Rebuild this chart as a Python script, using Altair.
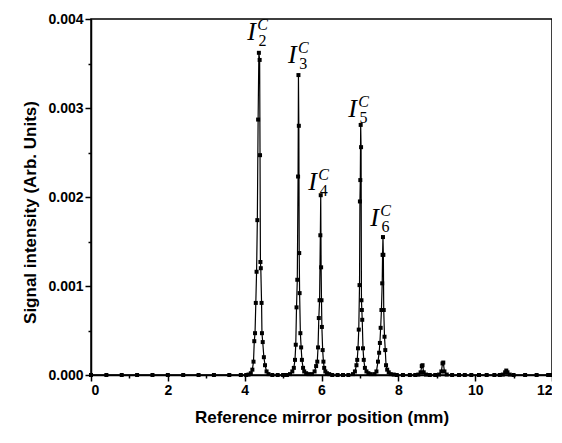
import altair as alt
import pandas as pd

# ---- data (mm, arb. units) ----
base_x = [0.0, 0.4, 0.8, 1.2, 1.6, 2.0, 2.4, 2.8, 3.2, 3.6, 3.9, 4.04,
          4.72, 4.86, 5.0, 5.1, 6.28, 6.42, 6.56, 6.7, 7.96, 8.12, 8.3, 8.44,
          8.82, 8.96, 9.4, 9.58, 9.73, 9.9, 10.1, 10.3, 10.5, 10.64,
          11.0, 11.3, 11.6, 11.9, 12.0]
base_y = [0.0] * len(base_x)

i2_x = [4.10, 4.16, 4.20, 4.23, 4.25, 4.27, 4.29, 4.31, 4.33, 4.35, 4.37,
        4.39, 4.40, 4.41, 4.42, 4.44, 4.45, 4.47, 4.50, 4.53, 4.57, 4.62]
i2_y = [0.005, 0.02, 0.06, 0.15, 0.38, 0.47, 0.81, 1.16, 1.74, 2.87, 3.62,
        3.54, 2.47, 1.27, 1.20, 0.81, 0.47, 0.37, 0.20, 0.11, 0.04, 0.01]

i3_x = [5.18, 5.24, 5.28, 5.31, 5.33, 5.35, 5.37, 5.39, 5.40, 5.41, 5.42,
        5.43, 5.45, 5.47, 5.49, 5.52, 5.55, 5.60, 5.66]
i3_y = [0.01, 0.04, 0.08, 0.17, 0.34, 0.76, 1.07, 2.23, 3.37, 2.80, 1.37,
        0.92, 0.47, 0.31, 0.17, 0.08, 0.04, 0.02, 0.01]

i4_x = [5.75, 5.82, 5.86, 5.89, 5.91, 5.93, 5.95, 5.97, 5.98, 5.99, 6.00,
        6.01, 6.03, 6.05, 6.07, 6.10, 6.14, 6.20]
i4_y = [0.01, 0.04, 0.10, 0.15, 0.31, 0.64, 0.84, 1.57, 2.02, 1.21, 0.84,
        0.54, 0.28, 0.15, 0.08, 0.04, 0.02, 0.01]

i5_x = [6.82, 6.87, 6.91, 6.93, 6.95, 6.97, 6.99, 7.00, 7.01, 7.02, 7.03,
        7.04, 7.05, 7.06, 7.08, 7.10, 7.13, 7.17, 7.22, 7.28]
i5_y = [0.01, 0.04, 0.11, 0.17, 0.30, 0.51, 1.01, 1.95, 2.19, 2.81, 2.56,
        0.84, 0.73, 0.62, 0.30, 0.17, 0.08, 0.04, 0.02, 0.01]

i6_x = [7.38, 7.43, 7.47, 7.50, 7.52, 7.54, 7.56, 7.58, 7.59, 7.60, 7.61,
        7.62, 7.64, 7.66, 7.68, 7.71, 7.75, 7.80, 7.88]
i6_y = [0.01, 0.04, 0.15, 0.25, 0.36, 0.53, 0.73, 1.03, 1.35, 1.55, 1.35,
        0.73, 0.43, 0.28, 0.11, 0.06, 0.03, 0.01, 0.005]

small_x = [8.52, 8.58, 8.61, 8.63, 8.66, 8.72,
           9.06, 9.12, 9.15, 9.17, 9.20, 9.26,
           10.72, 10.78, 10.81, 10.84, 10.90]
small_y = [0.005, 0.03, 0.10, 0.11, 0.03, 0.005,
           0.005, 0.04, 0.13, 0.14, 0.04, 0.005,
           0.005, 0.03, 0.05, 0.03, 0.005]

# peak annotation positions (data units) and indices
lab_x = [4.18, 5.24, 5.77, 6.81, 7.38]
lab_y = [3.854, 3.596, 2.169, 2.989, 1.764]
lab_n = ["2", "3", "4", "5", "6"]

xs_all = base_x + i2_x + i3_x + i4_x + i5_x + i6_x + small_x
ys_all = base_y + i2_y + i3_y + i4_y + i5_y + i6_y + small_y
df = pd.DataFrame({"x": xs_all, "y": [v * 1e-3 for v in ys_all]}).sort_values("x")
lab = pd.DataFrame({"x": lab_x, "y": [v * 1e-3 for v in lab_y], "n": lab_n,
                    "I": ["I"] * 5, "C": ["C"] * 5})

xsc = alt.Scale(domain=[0, 12], nice=False, zero=False)
ysc = alt.Scale(domain=[0, 0.004], nice=False)

FONT = "Liberation Sans"
major_x = alt.Axis(values=[0, 2, 4, 6, 8, 10, 12], format="d", orient="bottom",
                   title="Reference mirror position (mm)", grid=False,
                   tickSize=6, labelPadding=2, titlePadding=12)
major_y = alt.Axis(values=[0, 0.001, 0.002, 0.003, 0.004], format=".3f", orient="left",
                   title="Signal intensity (Arb. Units)", grid=False,
                   tickSize=6, labelPadding=2, titlePadding=8, titleY=193)
minor_x = alt.Axis(values=[1, 3, 5, 7, 9, 11], labels=False, domain=False, ticks=True,
                   tickSize=3, grid=False, title=None, orient="bottom")
minor_y = alt.Axis(values=[0.0005, 0.0015, 0.0025, 0.0035], labels=False, domain=False,
                   ticks=True, tickSize=3, grid=False, title=None, orient="left")

line = alt.Chart(df).mark_line(color="black", strokeWidth=1.2).encode(
    x=alt.X("x:Q", scale=xsc, axis=major_x),
    y=alt.Y("y:Q", scale=ysc, axis=major_y),
)
pts = alt.Chart(df).mark_square(color="black", size=16, opacity=1).encode(
    x=alt.X("x:Q", scale=xsc, axis=None),
    y=alt.Y("y:Q", scale=ysc, axis=None),
)
minor = alt.Chart(df).mark_point(opacity=0).encode(
    x=alt.X("x:Q", scale=xsc, axis=minor_x),
    y=alt.Y("y:Q", scale=ysc, axis=minor_y),
)

lbase = alt.Chart(lab).encode(
    x=alt.X("x:Q", scale=xsc, axis=None),
    y=alt.Y("y:Q", scale=ysc, axis=None),
)
tI = lbase.mark_text(font="Liberation Serif", fontStyle="italic", fontSize=26,
                     align="center", baseline="middle", color="black").encode(text="I:N")
tC = lbase.mark_text(font="Liberation Serif", fontStyle="italic", fontSize=16,
                     align="center", baseline="middle", dx=11, dy=-7,
                     color="black").encode(text="C:N")
tN = lbase.mark_text(font="Liberation Serif", fontSize=16,
                     align="center", baseline="middle", dx=11, dy=9,
                     color="black").encode(text="n:N")

chart = alt.layer(line, pts, minor, tI, tC, tN).resolve_axis(
    x="independent", y="independent"
).properties(
    width=461, height=356,
    autosize=alt.AutoSizeParams(type="none"),
    padding={"left": 83, "top": 11, "right": 0, "bottom": 58},
).configure_view(
    stroke="black", strokeWidth=1.5
).configure_axis(
    domainColor="black", domainWidth=1.5, tickColor="black", tickWidth=1.5,
    labelFont=FONT, labelFontWeight="bold", labelFontSize=14, labelColor="black",
    titleFont=FONT, titleFontWeight="bold", titleFontSize=17, titleColor="black",
)

chart.save("out.html", embed_options={"renderer": "svg", "actions": False})
